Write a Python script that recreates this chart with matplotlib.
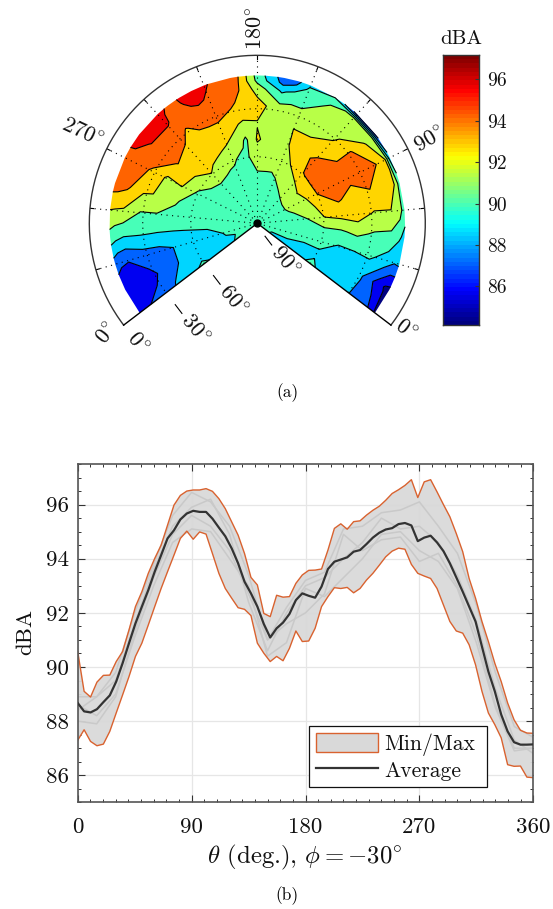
import numpy as np
import matplotlib
matplotlib.use('Agg')
import matplotlib.pyplot as plt
from matplotlib.colors import LinearSegmentedColormap, Normalize
from matplotlib.lines import Line2D
from matplotlib.patches import Patch

# ---- Panel (a) data -------------------------------------------------------
theta_cols = [0, 15, 30, 45, 60, 75, 90, 105, 120, 135, 150, 157.5, 165, 180, 191.25, 195,
              210, 217.5, 225, 232.5, 240, 255, 270, 285, 300, 315, 330, 345, 360]
radius_rows = [0, 10, 20, 30, 40, 50, 60, 70, 80, 85, 88]
dba_grid = [
    [90.2, 89.9, 89.5, 89.4, 90.3, 89.2, 89.0, 88.4, 87.6, 86.5, 85.2],
    [90.2, 89.95, 89.95, 89.6, 89.6, 89.3, 89.0, 88.5, 86.4, 85.4, 85.2],
    [90.2, 89.95, 90.3, 90.4, 90.5, 89.8, 89.93, 90.2, 89.3, 88.6, 88.8],
    [90.2, 90.0, 90.5, 91.0, 91.1, 91.2, 91.7, 91.2, 91.0, 90.2, 89.5],
    [90.2, 90.1, 90.6, 91.38, 92.8, 93.2, 93.6, 92.7, 92.8, 92.0, 90.6],
    [90.2, 90.1, 91.2, 91.9, 93.5, 94.4, 93.8, 94.2, 93.3, 92.8, 90.5],
    [90.2, 90.2, 91.6, 92.3, 94.35, 95.0, 94.6, 95.0, 94.2, 92.85, 89.0],
    [90.3, 90.3, 91.6, 92.9, 94.4, 95.0, 94.35, 94.4, 92.7, 91.5, 86.6],
    [90.4, 90.4, 91.38, 92.2, 94.25, 94.6, 93.5, 92.5, 92.0, 91.5, 86.5],
    [90.4, 90.4, 91.1, 91.9, 93.0, 93.6, 92.85, 92.2, 91.6, 91.2, 89.9],
    [90.5, 90.5, 90.7, 91.45, 92.2, 92.75, 92.85, 91.7, 90.7, 90.2, 89.7],
    [90.5, 90.5, 90.8, 91.3, 91.8, 92.0, 92.3, 91.9, 90.4, 88.6, 88.0],
    [90.5, 90.6, 90.8, 91.3, 91.9, 92.2, 92.2, 91.9, 89.7, 88.0, 87.7],
    [90.5, 90.6, 90.8, 91.3, 92.0, 93.0, 92.75, 93.5, 92.2, 91.0, 90.8],
    [90.5, 90.6, 90.8, 91.0, 91.3, 91.1, 92.6, 93.8, 94.3, 94.4, 94.5],
    [90.5, 90.6, 90.8, 91.0, 91.1, 91.6, 92.8, 94.1, 94.7, 94.8, 95.0],
    [90.5, 90.5, 90.8, 91.1, 91.5, 92.8, 93.8, 94.9, 95.6, 95.75, 95.85],
    [90.5, 90.5, 90.7, 91.1, 91.6, 93.2, 93.9, 94.8, 95.9, 96.2, 96.3],
    [90.4, 90.4, 90.7, 91.0, 92.0, 93.5, 93.9, 94.6, 95.6, 95.8, 95.85],
    [90.4, 90.4, 90.6, 90.95, 92.5, 93.4, 93.9, 94.2, 95.2, 95.3, 95.4],
    [90.4, 90.4, 90.6, 91.0, 92.8, 93.6, 94.0, 94.8, 95.9, 96.0, 96.3],
    [90.3, 90.3, 90.5, 90.9, 92.0, 93.3, 94.4, 95.2, 95.8, 96.2, 96.3],
    [90.2, 90.2, 90.4, 90.7, 91.2, 92.9, 92.6, 94.1, 95.0, 95.3, 95.3],
    [90.2, 90.1, 90.4, 90.6, 90.8, 91.5, 92.7, 93.0, 94.5, 94.9, 95.0],
    [90.1, 90.0, 90.2, 90.5, 90.7, 91.1, 91.3, 91.3, 92.6, 92.7, 92.8],
    [90.1, 90.0, 90.1, 90.0, 89.95, 89.9, 89.9, 90.0, 90.0, 90.4, 90.8],
    [90.1, 90.0, 90.0, 89.5, 89.3, 88.6, 88.0, 87.8, 87.1, 87.3, 87.8],
    [90.1, 90.0, 89.85, 89.3, 89.0, 88.7, 87.8, 86.6, 86.0, 85.9, 85.9],
    [90.1, 90.0, 89.9, 89.4, 90.3, 89.3, 88.6, 87.5, 87.0, 86.5, 85.7],
]
contour_levels = [84.13, 85.58, 87.03, 88.48, 89.93, 91.38, 92.83, 94.28, 95.73, 97.18]
cbar_ticks = [86, 88, 90, 92, 94, 96]
theta_ticks = [30, 60, 90, 120, 150, 180, 210, 240, 270, 300, 330]
phi_ticks = [0, 30, 60, 90]
phi_radius = [100, 68.2, 39.6, 1]

# ---- Panel (b) data -------------------------------------------------------
theta_line = np.linspace(0, 360, 72)
dba_max = [90.57, 89.10, 88.89, 89.44, 89.69, 89.70, 90.20, 90.57, 91.37, 92.23, 92.78, 93.46,
           94.01, 94.50, 95.24, 95.98, 96.34, 96.50, 96.54, 96.54, 96.59, 96.49, 96.22, 95.85,
           95.36, 94.87, 94.19, 93.31, 93.03, 91.98, 91.86, 92.65, 92.58, 92.60, 93.09, 93.40,
           93.57, 93.58, 93.62, 94.32, 95.12, 95.29, 95.09, 95.37, 95.40, 95.61, 95.79, 95.94,
           96.16, 96.41, 96.55, 96.71, 96.92, 96.26, 96.84, 96.92, 96.47, 96.00, 95.55, 94.93,
           94.26, 93.27, 92.54, 91.68, 90.94, 90.14, 89.46, 88.67, 88.05, 87.66, 87.56, 87.55]
dba_avg = [88.67, 88.36, 88.32, 88.44, 88.70, 88.95, 89.46, 90.14, 90.88, 91.61, 92.23, 92.84,
           93.52, 94.13, 94.75, 95.05, 95.45, 95.67, 95.77, 95.73, 95.73, 95.48, 95.15, 94.83,
           94.38, 93.83, 93.15, 92.72, 92.23, 91.59, 91.09, 91.43, 91.64, 91.96, 92.47, 92.72,
           92.63, 92.56, 92.97, 93.62, 93.89, 93.97, 94.05, 94.26, 94.32, 94.54, 94.78, 94.96,
           95.08, 95.13, 95.28, 95.32, 95.23, 94.65, 94.78, 94.85, 94.60, 94.28, 93.83, 93.31,
           92.78, 92.23, 91.68, 90.75, 89.83, 89.10, 88.24, 87.62, 87.22, 87.13, 87.13, 87.14]
dba_min = [87.29, 87.68, 87.25, 87.09, 87.15, 87.62, 88.30, 88.97, 89.65, 90.39, 90.88, 91.55,
           92.23, 92.90, 93.52, 94.13, 94.75, 95.02, 94.72, 94.99, 94.91, 94.19, 93.46, 92.90,
           92.54, 92.19, 92.13, 91.90, 90.88, 90.51, 90.20, 90.39, 90.23, 90.69, 91.33, 90.94,
           90.96, 91.43, 92.23, 92.60, 92.93, 92.90, 92.94, 92.74, 92.90, 93.21, 93.46, 93.76,
           94.07, 94.28, 94.39, 94.35, 93.79, 93.46, 93.36, 93.27, 92.90, 92.29, 91.68, 91.33,
           91.25, 90.82, 90.08, 89.10, 88.30, 87.87, 87.38, 86.39, 86.33, 86.34, 85.93, 85.91]
theta_faint = [0, 15, 30, 45, 60, 75, 90, 105, 120, 135, 150, 165, 180, 195, 210, 225, 240, 255, 270, 285, 300, 315, 330, 345, 360]
dba_faint_a = [88.9, 88.9, 89.8, 92.0, 93.8, 95.6, 96.45, 96.1, 95.2, 93.4, 91.0, 92.2, 93.2, 93.5, 95.1, 95.2, 95.7, 95.8, 96.1, 95.2, 94.2, 92.3, 89.8, 87.8, 87.4]
dba_faint_b = [88.0, 87.9, 88.9, 91.3, 93.3, 94.9, 95.6, 95.2, 94.3, 92.7, 91.0, 91.6, 92.0, 92.7, 94.9, 94.3, 94.7, 94.8, 93.9, 94.2, 93.0, 91.2, 88.6, 87.0, 87.0]
dba_faint_c = [88.4, 88.9, 89.5, 91.6, 93.6, 95.2, 95.9, 96.2, 94.9, 92.4, 90.6, 92.0, 93.0, 93.3, 94.0, 94.6, 95.5, 95.1, 95.2, 94.6, 93.4, 91.7, 89.2, 87.3, 86.8]
dba_faint_d = [88.6, 88.2, 89.0, 91.1, 93.0, 94.6, 95.1, 95.0, 94.0, 93.0, 90.4, 90.9, 92.9, 92.6, 93.3, 94.0, 94.9, 95.0, 94.3, 93.9, 92.9, 90.9, 88.5, 86.9, 87.0]

# ---- Style ---------------------------------------------------------------
W, H = 553, 909
plt.rcParams['font.family'] = ['cmr10', 'DejaVu Serif']
plt.rcParams['mathtext.fontset'] = 'cm'
plt.rcParams['axes.formatter.use_mathtext'] = True
plt.rcParams['axes.unicode_minus'] = False
FS = 16
TXT = '#111111'
DARK = '#333333'
fig = plt.figure(figsize=(W / 100, H / 100), dpi=100)

def px_axes(x0, y0, x1, y1, **kw):
    return fig.add_axes([x0 / W, 1 - y1 / H, (x1 - x0) / W, (y1 - y0) / H], **kw)

def px_text(x, y, s, **kw):
    kw.setdefault('ha', 'center')
    kw.setdefault('va', 'center')
    kw.setdefault('color', TXT)
    return fig.text(x / W, 1 - y / H, s, **kw)

jet = LinearSegmentedColormap.from_list('matlab_jet', [
    (0.0, (0, 0, .5)), (0.125, (0, 0, 1)), (0.375, (0, 1, 1)),
    (0.625, (1, 1, 0)), (0.875, (1, 0, 0)), (1.0, (.5, 0, 0))], N=64)
norm = Normalize(contour_levels[0], contour_levels[-1])

# ---- Polar panel ---------------------------------------------------------
CX, CY, RO = 257.3, 223.3, 168.0
HALF = 127.3
ax = px_axes(CX - RO, CY - RO, CX + RO, CY + RO, projection='polar')
ax.set_theta_zero_location('N')
ax.set_theta_direction(-1)
ax.set_rlim(0, 100)
ax.patch.set_alpha(0)
ax.axis('off')

def ang(t):
    return np.radians((180 - np.asarray(t, float)) * HALF / 180)

T, R = np.meshgrid(theta_cols, radius_rows, indexing='ij')
Z = np.array(dba_grid)
colors = [jet(norm(v)) for v in contour_levels[:-1]]
ax.contourf(ang(T), R, Z, levels=contour_levels, colors=colors, antialiased=True)
ax.contour(ang(T), R, Z, levels=contour_levels[1:-1], colors='k', linewidths=0.8)

DOT = (0, (1, 4))
for t in theta_ticks:
    ax.plot([ang(t)] * 2, [4, 100], color='k', lw=0.8, ls=DOT)
    ax.plot([ang(t)] * 2, [97.8, 100], color='k', lw=0.8)
arc = np.linspace(0, 360, 200)
for r in phi_radius[1:3]:
    ax.plot(ang(arc), np.full_like(arc, r), color='k', lw=0.8, ls=DOT)
ax.plot(ang(arc), np.full_like(arc, 100.0), color=DARK, lw=1.0, clip_on=False)
for t in (0, 360):
    ax.plot([ang(t)] * 2, [0, 100], color='k', lw=1.0, clip_on=False)
ax.plot([0], [0], 'o', color='k', ms=5, clip_on=False)

# theta labels
px_text(256, 28, r'$180^{\circ}$', fontsize=FS, rotation=90)
px_text(430, 140, r'$90^{\circ}$', fontsize=FS, rotation=30)
px_text(82, 133, r'$270^{\circ}$', fontsize=FS, rotation=-25)
px_text(107, 334, r'$0^{\circ}$', fontsize=FS, rotation=52)
px_text(405, 330, r'$0^{\circ}$', fontsize=FS, rotation=-37)

# phi ticks and labels, set off from the lower-left edge
E = (-np.sin(np.radians(HALF)), -np.cos(np.radians(HALF)))  # unit vector along the edge
N = (0.606, 0.795)
for p, r in zip(phi_ticks, phi_radius):
    r_px = r * 1.68
    x0, y0 = CX + r_px * E[0], CY + r_px * E[1]
    if p != 0:
        a, b = 15, 26
        fig.add_artist(Line2D([(x0 + a * N[0]) / W, (x0 + b * N[0]) / W],
                              [1 - (y0 + a * N[1]) / H, 1 - (y0 + b * N[1]) / H], color='k', lw=0.8))
    d = 22 if p == 0 else 46
    px_text(x0 + d * N[0], y0 + d * N[1], r'$%d^{\circ}$' % p, fontsize=FS, rotation=-50)

# ---- Colour bar ----------------------------------------------------------
cax = px_axes(442.7, 55, 479, 325)
grad = np.linspace(contour_levels[0], contour_levels[-1], 64).reshape(-1, 1)
cax.imshow(grad, origin='lower', aspect='auto', cmap=jet, norm=norm,
           extent=[0, 1, contour_levels[0], contour_levels[-1]])
cax.set_xticks([])
cax.yaxis.tick_right()
cax.set_yticks(cbar_ticks)
cax.set_yticklabels([str(v) for v in cbar_ticks], fontsize=14)
cax.tick_params(axis='y', direction='in', length=3, width=0.8, color=DARK, pad=6, labelcolor=TXT)
for s in cax.spines.values():
    s.set_color(DARK)
    s.set_linewidth(1.0)
px_text(461, 39.5, 'dBA', fontsize=15)

# ---- Line panel ----------------------------------------------------------
bx = px_axes(77.7, 464, 533.3, 802.3)
bx.set_xlim(0, 360)
bx.set_ylim(85.02, 97.49)
EDGE = '#d9622f'
bx.grid(True, color='#e6e6e6', lw=0.9, zorder=0)
bx.set_axisbelow(True)
bx.fill_between(theta_line, dba_min, dba_max, facecolor='#d9d9d9', edgecolor='none', alpha=0.95, zorder=1)
for s in (dba_faint_a, dba_faint_b, dba_faint_c, dba_faint_d):
    bx.plot(theta_faint, s, color='#c9c9c9', lw=1.1, zorder=1.5)
bx.plot(theta_line, dba_max, color=EDGE, lw=1.0, zorder=2)
bx.plot(theta_line, dba_min, color=EDGE, lw=1.0, zorder=2)
bx.plot(theta_line, dba_avg, color=DARK, lw=1.6, zorder=3)
bx.set_xticks([0, 90, 180, 270, 360])
bx.set_xticks(np.arange(0, 361, 10), minor=True)
bx.set_yticks([86, 88, 90, 92, 94, 96])
bx.set_yticks(np.arange(85, 97.6, 0.5), minor=True)
bx.set_xticklabels(['0', '90', '180', '270', '360'], fontsize=16.5)
bx.set_yticklabels(['86', '88', '90', '92', '94', '96'], fontsize=16.5)
bx.tick_params(which='major', direction='in', length=5, width=0.8, top=True, right=True, color=DARK, labelcolor=TXT, pad=6)
bx.tick_params(axis='x', which='major', pad=11)
bx.tick_params(which='minor', direction='in', length=2.5, width=0.7, top=True, right=True, color=DARK)
for s in bx.spines.values():
    s.set_color('#555555')
    s.set_linewidth(1.2)
px_text(305, 857, r'$\theta$ (deg.), $\phi = -30^{\circ}$', fontsize=17.8)
px_text(25, 632, 'dBA', fontsize=16.5, rotation=90)
leg = bx.legend(handles=[Patch(facecolor='#d9d9d9', edgecolor=EDGE, lw=1.0, label='Min/Max'),
                         Line2D([], [], color=DARK, lw=1.6, label='Average')],
                loc='lower left', bbox_to_anchor=((309.3 - 77.7) / 455.6, (802.3 - 787.3) / 338.3,
                                                  177.4 / 455.6, 62 / 338.3),
                mode='expand', borderaxespad=0, fontsize=15.6, fancybox=False, framealpha=1,
                edgecolor=TXT, handlelength=2.85, handleheight=0.95, labelspacing=0.2,
                handletextpad=0.3, borderpad=0.3, labelcolor=TXT)
leg.get_frame().set_linewidth(0.9)
leg.set_zorder(5)

px_text(287, 393, '(a)', fontsize=12.4, color='k')
px_text(287, 896, '(b)', fontsize=12.4, color='k')

fig.savefig('out.png', dpi=100, facecolor='white')
